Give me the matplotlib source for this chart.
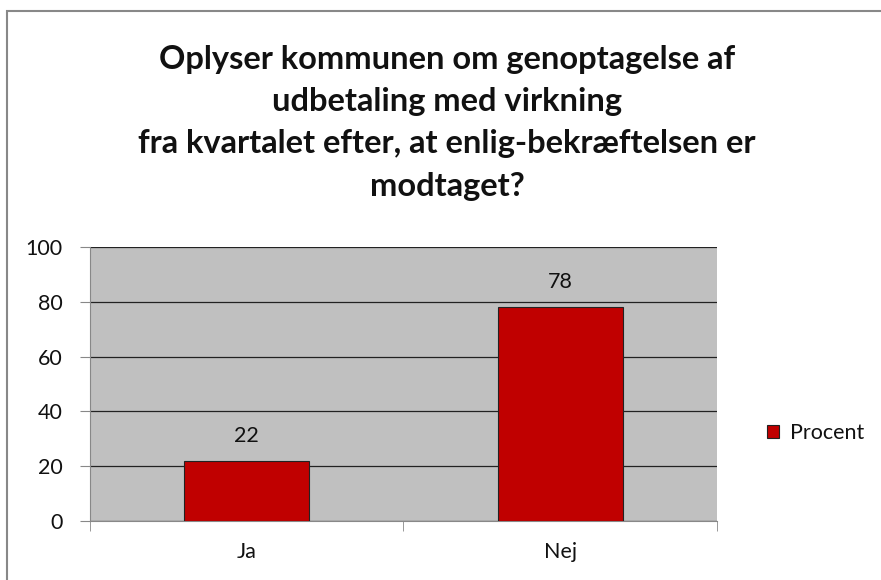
import numpy as np
import matplotlib.pyplot as plt
from matplotlib.patches import Rectangle

# data
categories = ['Ja', 'Nej']
procent = [22, 78]
title = ('Oplyser kommunen om genoptagelse af\nudbetaling med virkning\n'
         'fra kvartalet efter, at enlig-bekræftelsen er\nmodtaget?')

plt.rcParams['font.family'] = ['Lato', 'DejaVu Sans']
plt.rcParams['text.color'] = '#111111'
plt.rcParams['xtick.labelcolor'] = '#111111'
plt.rcParams['ytick.labelcolor'] = '#111111'

fig = plt.figure(figsize=(8.81, 5.80), dpi=100)
fig.patch.set_facecolor('white')

# chart border (left and top visible)
fig.add_artist(Rectangle((7 / 881, -0.05), 1.2, 1 - 11 / 580 + 0.05,
                         transform=fig.transFigure, fill=False,
                         edgecolor='#888888', linewidth=1.5))

ax = fig.add_axes([90 / 881, 1 - 521 / 580, (717 - 90) / 881, (521 - 247) / 580])
ax.set_facecolor('#c0c0c0')

x = np.arange(len(categories))
bars = ax.bar(x, procent, width=0.4, color='#c00000', edgecolor='#222222',
              linewidth=0.8, label='Procent', zorder=3)
for b, v in zip(bars, procent):
    ax.text(b.get_x() + b.get_width() / 2, v + 5.5, str(v), ha='center',
            va='bottom', fontsize=15.5)

ax.set_xlim(-0.5, 1.5)
ax.set_ylim(0, 100)
ax.set_yticks(range(0, 101, 20))
ax.grid(axis='y', color='#222222', linewidth=0.9, zorder=1)
ax.set_axisbelow(True)

ax.set_xticks(x)
ax.set_xticklabels(categories)
ax.set_xticks([-0.5, 0.5, 1.5], minor=True)
ax.tick_params(axis='x', which='major', length=0, pad=15, labelsize=15.5)
ax.tick_params(axis='x', which='minor', length=7, color='#888888')
ax.tick_params(axis='y', length=7, color='#888888', labelsize=15.5, pad=12.5)

for s in ['top', 'right']:
    ax.spines[s].set_visible(False)
for s in ['left', 'bottom']:
    ax.spines[s].set_color('#888888')

fig.text(447 / 881, 1 - 45 / 580, title, ha='center', va='top',
         fontsize=23.5, fontweight='bold', linespacing=1.55)

fig.legend(handles=[bars], labels=['Procent'], loc='center left',
           bbox_to_anchor=(748 / 881, 1 - 433 / 580), frameon=False,
           fontsize=15.5, handlelength=0.55, handleheight=0.55,
           handletextpad=0.5)

fig.savefig('out.png', dpi=100)
